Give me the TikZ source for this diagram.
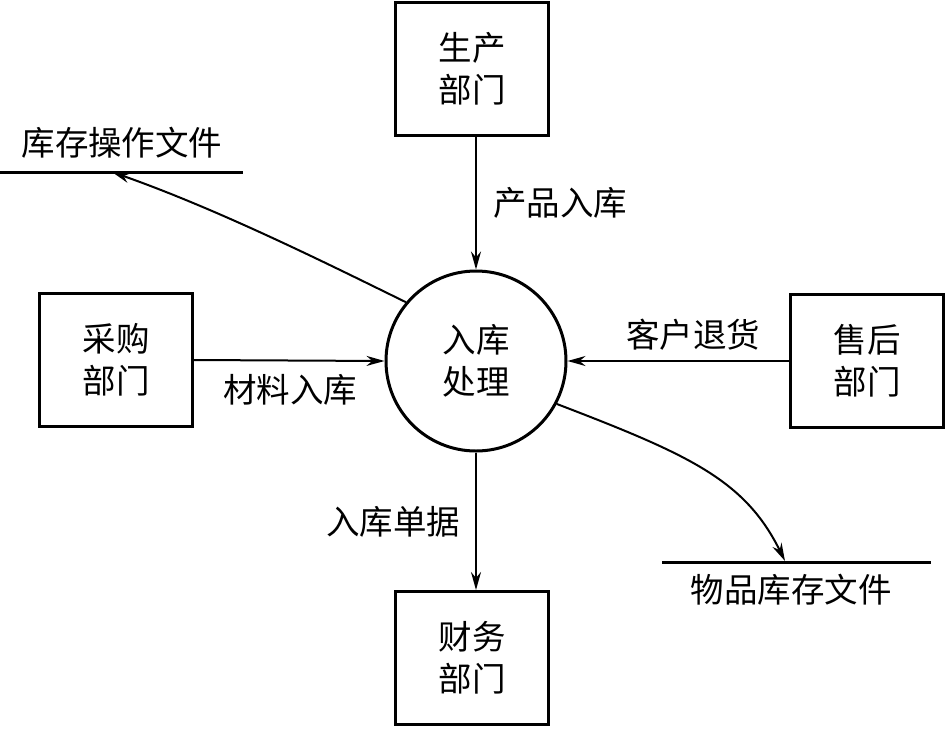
\documentclass[tikz,border=0pt]{standalone}
\usepackage{fontspec}
\setmainfont{Noto Sans CJK SC}
\usetikzlibrary{arrows.meta}
\begin{document}
\begin{tikzpicture}[x=1pt,y=-1pt,
  every node/.style={font=\fontsize{33.5}{42}\selectfont, inner sep=0pt},
  box/.style={draw, line width=3pt, minimum width=153pt, minimum height=133pt, align=center},
  proc/.style={draw, circle, line width=3pt, minimum size=180pt, align=center},
  flow/.style={line width=2pt, -{Stealth[length=18pt,width=10pt]}},
  store/.style={line width=3pt}]
\useasboundingbox (0,0) rectangle (946,729);
\node[box] (prod) at (472,69) {生产\\部门};
\node[box] (buy) at (116,360) {采购\\部门};
\node[box] (after) at (867,361) {售后\\部门};
\node[box] (fin) at (472,658) {财务\\部门};
\node[proc] (p) at (476,361) {入库\\处理};
\coordinate (s1a) at (0,172);
\coordinate (s1b) at (243,172);
\draw[store] (s1a) -- (s1b);
\node (s1t) at (122,143) {库存操作文件};
\coordinate (s2a) at (662,562);
\coordinate (s2b) at (931,562);
\draw[store] (s2a) -- (s2b);
\node (s2t) at (791,590) {物品库存文件};
\coordinate (t1) at (112,172);
\coordinate (t2) at (785,561);
\draw[flow] (prod.south -| p.north) -- (p.north);
\draw[flow] (buy.east) -- (p.west);
\draw[flow] (after.west) -- (p.east);
\draw[flow] (p.south) -- (fin.north -| p.south);
\draw[flow] (p.140) .. controls (330,265) and (220,210) .. (t1);
\draw[flow] (p.-28) .. controls (690,455) and (745,480) .. (t2);
\node (l1) at (560,203) {产品入库};
\node (l2) at (290,390) {材料入库};
\node (l3) at (693,335) {客户退货};
\node (l4) at (393,522) {入库单据};
\end{tikzpicture}
\end{document}
